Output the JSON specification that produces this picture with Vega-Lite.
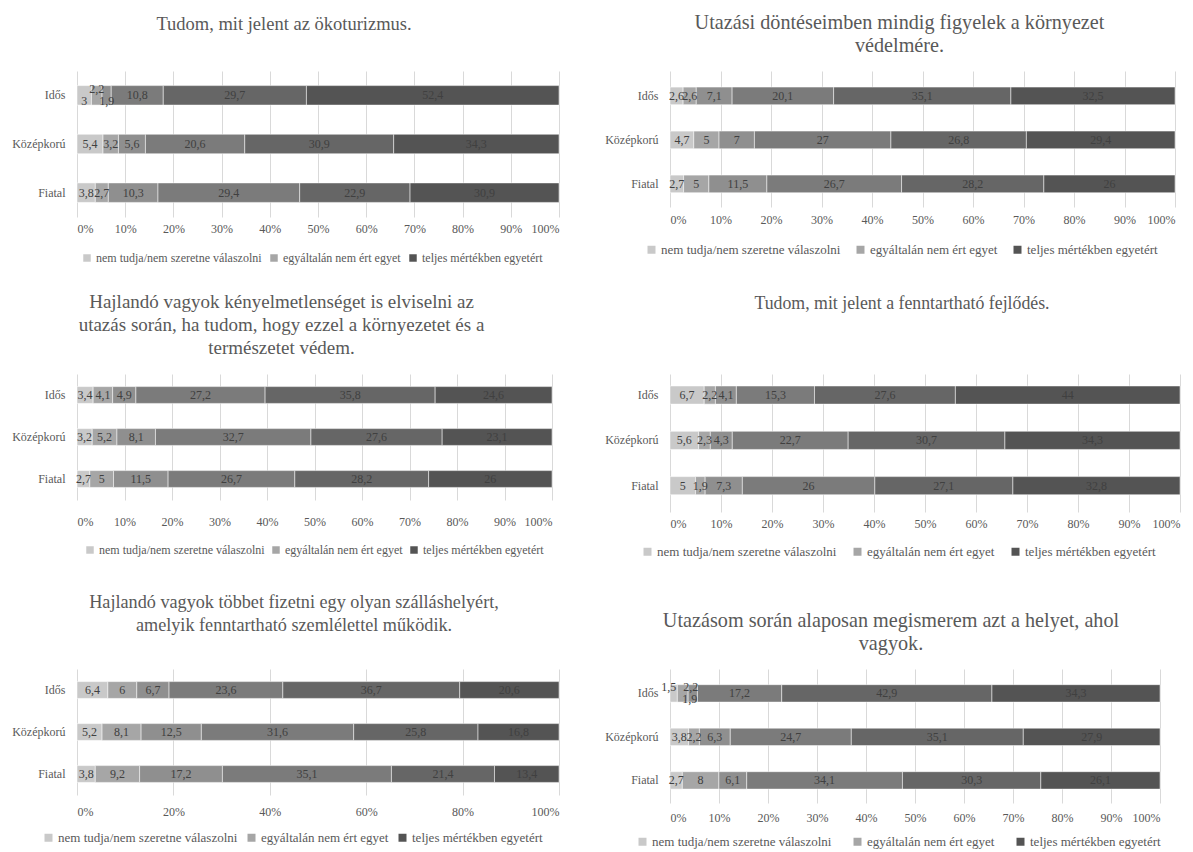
{
 "$schema": "https://vega.github.io/schema/vega-lite/v6.json",
 "padding": {"left": 11, "top": 12, "right": 0, "bottom": 0},
 "datasets": {
  "cats": [
   {"k": 1, "cat": "nem tudja/nem szeretne válaszolni"},
   {"k": 2, "cat": "egyáltalán nem ért egyet"},
   {"k": 3, "cat": "nem ért egyet"},
   {"k": 4, "cat": "részben egyetért"},
   {"k": 5, "cat": "egyetért"},
   {"k": 6, "cat": "teljes mértékben egyetért"}
  ],
  "all": [
   {"p":1,"a":"Idős","k":1,"v":3},{"p":1,"a":"Idős","k":2,"v":2.2},{"p":1,"a":"Idős","k":3,"v":1.9},{"p":1,"a":"Idős","k":4,"v":10.8},{"p":1,"a":"Idős","k":5,"v":29.7},{"p":1,"a":"Idős","k":6,"v":52.4},
   {"p":1,"a":"Középkorú","k":1,"v":5.4},{"p":1,"a":"Középkorú","k":2,"v":3.2},{"p":1,"a":"Középkorú","k":3,"v":5.6},{"p":1,"a":"Középkorú","k":4,"v":20.6},{"p":1,"a":"Középkorú","k":5,"v":30.9},{"p":1,"a":"Középkorú","k":6,"v":34.3},
   {"p":1,"a":"Fiatal","k":1,"v":3.8},{"p":1,"a":"Fiatal","k":2,"v":2.7},{"p":1,"a":"Fiatal","k":3,"v":10.3},{"p":1,"a":"Fiatal","k":4,"v":29.4},{"p":1,"a":"Fiatal","k":5,"v":22.9},{"p":1,"a":"Fiatal","k":6,"v":30.9},
   {"p":2,"a":"Idős","k":1,"v":2.6},{"p":2,"a":"Idős","k":2,"v":2.6},{"p":2,"a":"Idős","k":3,"v":7.1},{"p":2,"a":"Idős","k":4,"v":20.1},{"p":2,"a":"Idős","k":5,"v":35.1},{"p":2,"a":"Idős","k":6,"v":32.5},
   {"p":2,"a":"Középkorú","k":1,"v":4.7},{"p":2,"a":"Középkorú","k":2,"v":5},{"p":2,"a":"Középkorú","k":3,"v":7},{"p":2,"a":"Középkorú","k":4,"v":27},{"p":2,"a":"Középkorú","k":5,"v":26.8},{"p":2,"a":"Középkorú","k":6,"v":29.4},
   {"p":2,"a":"Fiatal","k":1,"v":2.7},{"p":2,"a":"Fiatal","k":2,"v":5},{"p":2,"a":"Fiatal","k":3,"v":11.5},{"p":2,"a":"Fiatal","k":4,"v":26.7},{"p":2,"a":"Fiatal","k":5,"v":28.2},{"p":2,"a":"Fiatal","k":6,"v":26},
   {"p":3,"a":"Idős","k":1,"v":3.4},{"p":3,"a":"Idős","k":2,"v":4.1},{"p":3,"a":"Idős","k":3,"v":4.9},{"p":3,"a":"Idős","k":4,"v":27.2},{"p":3,"a":"Idős","k":5,"v":35.8},{"p":3,"a":"Idős","k":6,"v":24.6},
   {"p":3,"a":"Középkorú","k":1,"v":3.2},{"p":3,"a":"Középkorú","k":2,"v":5.2},{"p":3,"a":"Középkorú","k":3,"v":8.1},{"p":3,"a":"Középkorú","k":4,"v":32.7},{"p":3,"a":"Középkorú","k":5,"v":27.6},{"p":3,"a":"Középkorú","k":6,"v":23.1},
   {"p":3,"a":"Fiatal","k":1,"v":2.7},{"p":3,"a":"Fiatal","k":2,"v":5},{"p":3,"a":"Fiatal","k":3,"v":11.5},{"p":3,"a":"Fiatal","k":4,"v":26.7},{"p":3,"a":"Fiatal","k":5,"v":28.2},{"p":3,"a":"Fiatal","k":6,"v":26},
   {"p":4,"a":"Idős","k":1,"v":6.7},{"p":4,"a":"Idős","k":2,"v":2.2},{"p":4,"a":"Idős","k":3,"v":4.1},{"p":4,"a":"Idős","k":4,"v":15.3},{"p":4,"a":"Idős","k":5,"v":27.6},{"p":4,"a":"Idős","k":6,"v":44},
   {"p":4,"a":"Középkorú","k":1,"v":5.6},{"p":4,"a":"Középkorú","k":2,"v":2.3},{"p":4,"a":"Középkorú","k":3,"v":4.3},{"p":4,"a":"Középkorú","k":4,"v":22.7},{"p":4,"a":"Középkorú","k":5,"v":30.7},{"p":4,"a":"Középkorú","k":6,"v":34.3},
   {"p":4,"a":"Fiatal","k":1,"v":5},{"p":4,"a":"Fiatal","k":2,"v":1.9},{"p":4,"a":"Fiatal","k":3,"v":7.3},{"p":4,"a":"Fiatal","k":4,"v":26},{"p":4,"a":"Fiatal","k":5,"v":27.1},{"p":4,"a":"Fiatal","k":6,"v":32.8},
   {"p":5,"a":"Idős","k":1,"v":6.4},{"p":5,"a":"Idős","k":2,"v":6},{"p":5,"a":"Idős","k":3,"v":6.7},{"p":5,"a":"Idős","k":4,"v":23.6},{"p":5,"a":"Idős","k":5,"v":36.7},{"p":5,"a":"Idős","k":6,"v":20.6},
   {"p":5,"a":"Középkorú","k":1,"v":5.2},{"p":5,"a":"Középkorú","k":2,"v":8.1},{"p":5,"a":"Középkorú","k":3,"v":12.5},{"p":5,"a":"Középkorú","k":4,"v":31.6},{"p":5,"a":"Középkorú","k":5,"v":25.8},{"p":5,"a":"Középkorú","k":6,"v":16.8},
   {"p":5,"a":"Fiatal","k":1,"v":3.8},{"p":5,"a":"Fiatal","k":2,"v":9.2},{"p":5,"a":"Fiatal","k":3,"v":17.2},{"p":5,"a":"Fiatal","k":4,"v":35.1},{"p":5,"a":"Fiatal","k":5,"v":21.4},{"p":5,"a":"Fiatal","k":6,"v":13.4},
   {"p":6,"a":"Idős","k":1,"v":1.5},{"p":6,"a":"Idős","k":2,"v":2.2},{"p":6,"a":"Idős","k":3,"v":1.9},{"p":6,"a":"Idős","k":4,"v":17.2},{"p":6,"a":"Idős","k":5,"v":42.9},{"p":6,"a":"Idős","k":6,"v":34.3},
   {"p":6,"a":"Középkorú","k":1,"v":3.8},{"p":6,"a":"Középkorú","k":2,"v":2.2},{"p":6,"a":"Középkorú","k":3,"v":6.3},{"p":6,"a":"Középkorú","k":4,"v":24.7},{"p":6,"a":"Középkorú","k":5,"v":35.1},{"p":6,"a":"Középkorú","k":6,"v":27.9},
   {"p":6,"a":"Fiatal","k":1,"v":2.7},{"p":6,"a":"Fiatal","k":2,"v":8},{"p":6,"a":"Fiatal","k":3,"v":6.1},{"p":6,"a":"Fiatal","k":4,"v":34.1},{"p":6,"a":"Fiatal","k":5,"v":30.3},{"p":6,"a":"Fiatal","k":6,"v":26.1}
  ]
 },
 "columns": 2,
 "align": "none",
 "bounds": "flush",
 "spacing": {"row": 157, "column": 111},
 "resolve": {"scale": {"color": "independent"}, "legend": {"color": "independent"}},
 "concat": [
  {
   "width": 482, "height": 146,
   "title": {"text": "Tudom, mit jelent az ökoturizmus.", "dx": -34, "offset": 38, "fontSize": 18.5},
   "data": {"name": "all"},
   "transform": [{"filter": "datum.p==1"}, {"lookup": "k", "from": {"data": {"name": "cats"}, "key": "k", "fields": ["cat"]}}],
   "encoding": {
    "y": {"field": "a", "type": "nominal", "sort": ["Idős", "Középkorú", "Fiatal"], "title": null, "scale": {"paddingInner": 0.6, "paddingOuter": 0.3}},
    "order": {"field": "k", "type": "quantitative"}
   },
   "layer": [
    {"mark": {"type": "bar", "stroke": "#ffffff", "strokeWidth": 0.5},
     "encoding": {
      "x": {"field": "v", "type": "quantitative", "stack": "normalize", "title": null, "scale": {"domain": [0, 1]}, "axis": {"format": ".0%", "tickCount": 10, "labelPadding": 6}},
      "color": {"field": "cat", "type": "nominal", "scale": {"domain": ["nem tudja/nem szeretne válaszolni", "egyáltalán nem ért egyet", "nem ért egyet", "részben egyetért", "egyetért", "teljes mértékben egyetért"], "range": ["#c9c9c9", "#a6a6a6", "#8f8f8f", "#7b7b7b", "#666666", "#545454"]},
       "legend": {"title": null, "orient": "none", "legendX": 4, "legendY": 181, "direction": "horizontal", "columnPadding": 6, "labelFontSize": 12, "symbolSize": 56, "values": ["nem tudja/nem szeretne válaszolni", "egyáltalán nem ért egyet", "teljes mértékben egyetért"]}}
     }},
    {"mark": {"type": "text", "fontSize": 12, "color": "#404040", "baseline": "middle"},
     "encoding": {
      "x": {"field": "v", "type": "quantitative", "stack": "normalize", "bandPosition": 0.5, "title": null, "axis": {"format": ".0%", "tickCount": 10, "labelPadding": 6}},
      "detail": {"field": "cat"},
      "text": {"field": "v", "type": "quantitative", "format": ".1~f", "condition": {"test": "datum.a=='Idős' && datum.k<=3", "value": ""}}
     }},
    {"mark": {"type": "text", "fontSize": 12, "color": "#404040", "baseline": "middle", "dy": -6},
     "encoding": {
      "x": {"field": "v", "type": "quantitative", "stack": "normalize", "bandPosition": 0.5, "title": null, "axis": {"format": ".0%", "tickCount": 10, "labelPadding": 6}},
      "detail": {"field": "cat"},
      "text": {"condition": {"test": "datum.a=='Idős' && datum.k==2", "field": "v", "type": "quantitative", "format": ".1~f"}, "value": ""}
     }},
    {"mark": {"type": "text", "fontSize": 12, "color": "#404040", "baseline": "middle", "dy": 6},
     "encoding": {
      "x": {"field": "v", "type": "quantitative", "stack": "normalize", "bandPosition": 0.5, "title": null, "axis": {"format": ".0%", "tickCount": 10, "labelPadding": 6}},
      "detail": {"field": "cat"},
      "text": {"condition": {"test": "datum.a=='Idős' && (datum.k==1 || datum.k==3)", "field": "v", "type": "quantitative", "format": ".1~f"}, "value": ""}
     }}
   ]
  },
  {
   "width": 505, "height": 136,
   "title": {"text": ["Utazási döntéseimben mindig figyelek a környezet", "védelmére."], "dx": -23, "offset": 15, "fontSize": 20.2},
   "data": {"name": "all"},
   "transform": [{"filter": "datum.p==2"}, {"lookup": "k", "from": {"data": {"name": "cats"}, "key": "k", "fields": ["cat"]}}],
   "encoding": {
    "y": {"field": "a", "type": "nominal", "sort": ["Idős", "Középkorú", "Fiatal"], "title": null, "scale": {"paddingInner": 0.6, "paddingOuter": 0.345, "align": 0.53}},
    "order": {"field": "k", "type": "quantitative"}
   },
   "layer": [
    {"mark": {"type": "bar", "stroke": "#ffffff", "strokeWidth": 0.5},
     "encoding": {
      "x": {"field": "v", "type": "quantitative", "stack": "normalize", "title": null, "scale": {"domain": [0, 1]}, "axis": {"format": ".0%", "tickCount": 10, "labelPadding": 7}},
      "color": {"field": "cat", "type": "nominal", "scale": {"domain": ["nem tudja/nem szeretne válaszolni", "egyáltalán nem ért egyet", "nem ért egyet", "részben egyetért", "egyetért", "teljes mértékben egyetért"], "range": ["#c9c9c9", "#a6a6a6", "#8f8f8f", "#7b7b7b", "#666666", "#545454"]},
       "legend": {"title": null, "orient": "none", "legendX": -25, "legendY": 172, "direction": "horizontal", "columnPadding": 13, "values": ["nem tudja/nem szeretne válaszolni", "egyáltalán nem ért egyet", "teljes mértékben egyetért"]}}
     }},
    {"mark": {"type": "text", "fontSize": 12, "color": "#404040", "baseline": "middle"},
     "encoding": {
      "x": {"field": "v", "type": "quantitative", "stack": "normalize", "bandPosition": 0.5, "title": null, "axis": {"format": ".0%", "tickCount": 10, "labelPadding": 7}},
      "detail": {"field": "cat"},
      "text": {"field": "v", "type": "quantitative", "format": ".1~f"}
     }}
   ]
  },
  {
   "width": 475, "height": 126,
   "title": {"text": ["Hajlandó vagyok kényelmetlenséget is elviselni az", "utazás során, ha tudom, hogy ezzel a környezetet és a", "természetet védem."], "dx": -33, "offset": 16, "fontSize": 19},
   "data": {"name": "all"},
   "transform": [{"filter": "datum.p==3"}, {"lookup": "k", "from": {"data": {"name": "cats"}, "key": "k", "fields": ["cat"]}}],
   "encoding": {
    "y": {"field": "a", "type": "nominal", "sort": ["Idős", "Középkorú", "Fiatal"], "title": null, "scale": {"paddingInner": 0.6, "paddingOuter": 0.3}},
    "order": {"field": "k", "type": "quantitative"}
   },
   "layer": [
    {"mark": {"type": "bar", "stroke": "#ffffff", "strokeWidth": 0.5},
     "encoding": {
      "x": {"field": "v", "type": "quantitative", "stack": "normalize", "title": null, "scale": {"domain": [0, 1]}, "axis": {"format": ".0%", "tickCount": 10, "labelPadding": 16}},
      "color": {"field": "cat", "type": "nominal", "scale": {"domain": ["nem tudja/nem szeretne válaszolni", "egyáltalán nem ért egyet", "nem ért egyet", "részben egyetért", "egyetért", "teljes mértékben egyetért"], "range": ["#c9c9c9", "#a6a6a6", "#8f8f8f", "#7b7b7b", "#666666", "#545454"]},
       "legend": {"title": null, "orient": "none", "legendX": 7, "legendY": 170, "direction": "horizontal", "columnPadding": 5, "labelFontSize": 12, "symbolSize": 56, "values": ["nem tudja/nem szeretne válaszolni", "egyáltalán nem ért egyet", "teljes mértékben egyetért"]}}
     }},
    {"mark": {"type": "text", "fontSize": 12, "color": "#404040", "baseline": "middle"},
     "encoding": {
      "x": {"field": "v", "type": "quantitative", "stack": "normalize", "bandPosition": 0.5, "title": null, "axis": {"format": ".0%", "tickCount": 10, "labelPadding": 16}},
      "detail": {"field": "cat"},
      "text": {"field": "v", "type": "quantitative", "format": ".1~f"}
     }}
   ]
  },
  {
   "width": 510, "height": 138,
   "title": {"text": "Tudom, mit jelent a fenntartható fejlődés.", "dx": -23, "offset": 61, "fontSize": 17.8},
   "data": {"name": "all"},
   "transform": [{"filter": "datum.p==4"}, {"lookup": "k", "from": {"data": {"name": "cats"}, "key": "k", "fields": ["cat"]}}],
   "encoding": {
    "y": {"field": "a", "type": "nominal", "sort": ["Idős", "Középkorú", "Fiatal"], "title": null, "scale": {"paddingInner": 0.6, "paddingOuter": 0.323, "align": 0.41}},
    "order": {"field": "k", "type": "quantitative"}
   },
   "layer": [
    {"mark": {"type": "bar", "stroke": "#ffffff", "strokeWidth": 0.5},
     "encoding": {
      "x": {"field": "v", "type": "quantitative", "stack": "normalize", "title": null, "scale": {"domain": [0, 1]}, "axis": {"format": ".0%", "tickCount": 10, "labelPadding": 6}},
      "color": {"field": "cat", "type": "nominal", "scale": {"domain": ["nem tudja/nem szeretne válaszolni", "egyáltalán nem ért egyet", "nem ért egyet", "részben egyetért", "egyetért", "teljes mértékben egyetért"], "range": ["#c9c9c9", "#a6a6a6", "#8f8f8f", "#7b7b7b", "#666666", "#545454"]},
       "legend": {"title": null, "orient": "none", "legendX": -29, "legendY": 171, "direction": "horizontal", "columnPadding": 14, "values": ["nem tudja/nem szeretne válaszolni", "egyáltalán nem ért egyet", "teljes mértékben egyetért"]}}
     }},
    {"mark": {"type": "text", "fontSize": 12, "color": "#404040", "baseline": "middle"},
     "encoding": {
      "x": {"field": "v", "type": "quantitative", "stack": "normalize", "bandPosition": 0.5, "title": null, "axis": {"format": ".0%", "tickCount": 10, "labelPadding": 6}},
      "detail": {"field": "cat"},
      "text": {"field": "v", "type": "quantitative", "format": ".1~f"}
     }}
   ]
  },
  {
   "width": 482, "height": 126,
   "title": {"text": ["Hajlandó vagyok többet fizetni egy olyan szálláshelyért,", "amelyik fenntartható szemlélettel működik."], "dx": -24, "offset": 34, "fontSize": 18.2},
   "data": {"name": "all"},
   "transform": [{"filter": "datum.p==5"}, {"lookup": "k", "from": {"data": {"name": "cats"}, "key": "k", "fields": ["cat"]}}],
   "encoding": {
    "y": {"field": "a", "type": "nominal", "sort": ["Idős", "Középkorú", "Fiatal"], "title": null, "scale": {"paddingInner": 0.6, "paddingOuter": 0.3}},
    "order": {"field": "k", "type": "quantitative"}
   },
   "layer": [
    {"mark": {"type": "bar", "stroke": "#ffffff", "strokeWidth": 0.5},
     "encoding": {
      "x": {"field": "v", "type": "quantitative", "stack": "normalize", "title": null, "scale": {"domain": [0, 1]}, "axis": {"format": ".0%", "tickCount": 5, "labelPadding": 11}},
      "color": {"field": "cat", "type": "nominal", "scale": {"domain": ["nem tudja/nem szeretne válaszolni", "egyáltalán nem ért egyet", "nem ért egyet", "részben egyetért", "egyetért", "teljes mértékben egyetért"], "range": ["#c9c9c9", "#a6a6a6", "#8f8f8f", "#7b7b7b", "#666666", "#545454"]},
       "legend": {"title": null, "orient": "none", "legendX": -35, "legendY": 162, "direction": "horizontal", "columnPadding": 7, "values": ["nem tudja/nem szeretne válaszolni", "egyáltalán nem ért egyet", "teljes mértékben egyetért"]}}
     }},
    {"mark": {"type": "text", "fontSize": 12, "color": "#404040", "baseline": "middle"},
     "encoding": {
      "x": {"field": "v", "type": "quantitative", "stack": "normalize", "bandPosition": 0.5, "title": null, "axis": {"format": ".0%", "tickCount": 5, "labelPadding": 11}},
      "detail": {"field": "cat"},
      "text": {"field": "v", "type": "quantitative", "format": ".1~f"}
     }}
   ]
  },
  {
   "width": 490, "height": 134,
   "title": {"text": ["Utazásom során alaposan megismerem azt a helyet, ahol", "vagyok."], "dx": -24, "offset": 15, "fontSize": 20.2},
   "data": {"name": "all"},
   "transform": [{"filter": "datum.p==6"}, {"lookup": "k", "from": {"data": {"name": "cats"}, "key": "k", "fields": ["cat"]}}],
   "encoding": {
    "y": {"field": "a", "type": "nominal", "sort": ["Idős", "Középkorú", "Fiatal"], "title": null, "scale": {"paddingInner": 0.6, "paddingOuter": 0.34, "align": 0.53}},
    "order": {"field": "k", "type": "quantitative"}
   },
   "layer": [
    {"mark": {"type": "bar", "stroke": "#ffffff", "strokeWidth": 0.5},
     "encoding": {
      "x": {"field": "v", "type": "quantitative", "stack": "normalize", "title": null, "scale": {"domain": [0, 1]}, "axis": {"format": ".0%", "tickCount": 10, "labelPadding": 9}},
      "color": {"field": "cat", "type": "nominal", "scale": {"domain": ["nem tudja/nem szeretne válaszolni", "egyáltalán nem ért egyet", "nem ért egyet", "részben egyetért", "egyetért", "teljes mértékben egyetért"], "range": ["#c9c9c9", "#a6a6a6", "#8f8f8f", "#7b7b7b", "#666666", "#545454"]},
       "legend": {"title": null, "orient": "none", "legendX": -34, "legendY": 166, "direction": "horizontal", "columnPadding": 19, "values": ["nem tudja/nem szeretne válaszolni", "egyáltalán nem ért egyet", "teljes mértékben egyetért"]}}
     }},
    {"mark": {"type": "text", "fontSize": 12, "color": "#404040", "baseline": "middle"},
     "encoding": {
      "x": {"field": "v", "type": "quantitative", "stack": "normalize", "bandPosition": 0.5, "title": null, "axis": {"format": ".0%", "tickCount": 10, "labelPadding": 9}},
      "detail": {"field": "cat"},
      "text": {"field": "v", "type": "quantitative", "format": ".1~f", "condition": {"test": "datum.a=='Idős' && datum.k<=3", "value": ""}}
     }},
    {"mark": {"type": "text", "fontSize": 12, "color": "#404040", "baseline": "middle", "dy": -6, "dx": -5},
     "encoding": {
      "x": {"field": "v", "type": "quantitative", "stack": "normalize", "bandPosition": 0.5, "title": null, "axis": {"format": ".0%", "tickCount": 10, "labelPadding": 9}},
      "detail": {"field": "cat"},
      "text": {"condition": {"test": "datum.a=='Idős' && datum.k==1", "field": "v", "type": "quantitative", "format": ".1~f"}, "value": ""}
     }},
    {"mark": {"type": "text", "fontSize": 12, "color": "#404040", "baseline": "middle", "dy": -6, "dx": 8},
     "encoding": {
      "x": {"field": "v", "type": "quantitative", "stack": "normalize", "bandPosition": 0.5, "title": null, "axis": {"format": ".0%", "tickCount": 10, "labelPadding": 9}},
      "detail": {"field": "cat"},
      "text": {"condition": {"test": "datum.a=='Idős' && datum.k==2", "field": "v", "type": "quantitative", "format": ".1~f"}, "value": ""}
     }},
    {"mark": {"type": "text", "fontSize": 12, "color": "#404040", "baseline": "middle", "dy": 6, "dx": -3},
     "encoding": {
      "x": {"field": "v", "type": "quantitative", "stack": "normalize", "bandPosition": 0.5, "title": null, "axis": {"format": ".0%", "tickCount": 10, "labelPadding": 9}},
      "detail": {"field": "cat"},
      "text": {"condition": {"test": "datum.a=='Idős' && datum.k==3", "field": "v", "type": "quantitative", "format": ".1~f"}, "value": ""}
     }}
   ]
  }
 ],
 "config": {
  "view": {"stroke": null},
  "font": "Liberation Serif",
  "locale": {"number": {"decimal": ",", "thousands": " ", "grouping": [3], "currency": ["", " Ft"]}},
  "axis": {"labelFont": "Liberation Serif", "labelFontSize": 12, "labelColor": "#595959", "domain": false, "ticks": false},
  "axisX": {"grid": true, "gridColor": "#d9d9d9", "gridWidth": 1},
  "axisY": {"grid": false, "labelPadding": 12},
  "title": {"font": "Liberation Serif", "fontSize": 18.67, "fontWeight": "normal", "color": "#595959", "anchor": "middle", "frame": "group", "lineHeight": 23},
  "legend": {"symbolType": "square", "symbolSize": 64, "symbolStrokeWidth": 0, "labelFont": "Liberation Serif", "labelFontSize": 13, "labelColor": "#595959", "labelOffset": 3, "labelLimit": 400, "gridAlign": "each"}
 }
}
